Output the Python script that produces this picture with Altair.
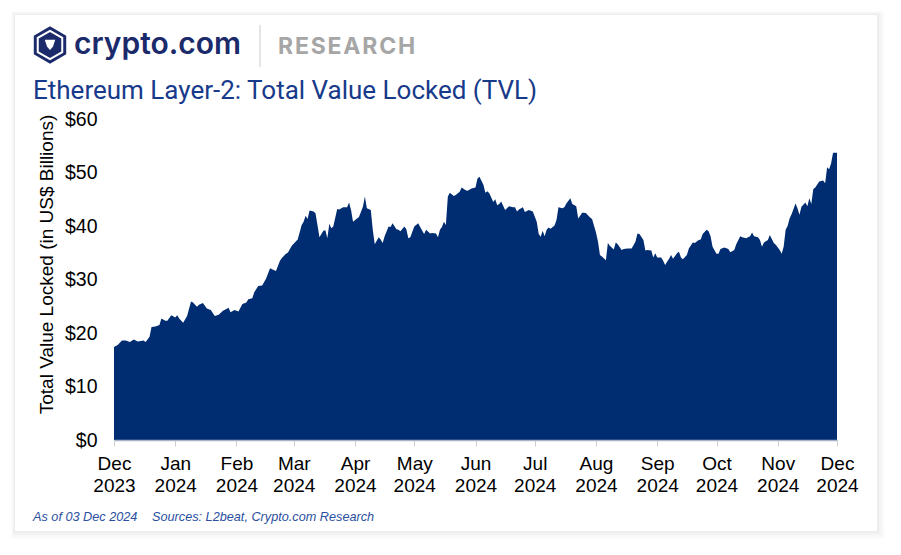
import altair as alt
import pandas as pd

# ---- data (days since 2023-12-01, TVL in US$ bn) ----
day_offset = [
    0, 2, 4, 6, 8, 10, 12, 15, 16, 18, 19, 21, 23, 24, 26, 27, 29, 31, 32, 33,
    35, 37, 39, 40, 42, 43, 45, 47, 49, 51, 53, 55, 58, 59, 61, 63, 65, 67, 68, 70,
    71, 73, 75, 77, 79, 80, 82, 84, 85, 87, 88, 90, 92, 93, 95, 96, 97, 98, 99, 101,
    102, 103, 104, 106, 107, 108, 109, 110, 111, 113, 114, 116, 118, 119, 120, 121, 123, 124, 125, 126,
    127, 128, 130, 131, 132, 134, 135, 136, 137, 139, 140, 141, 143, 144, 145, 147, 148, 149, 150, 152,
    154, 155, 157, 158, 160, 161, 163, 164, 165, 166, 167, 168, 169, 170, 172, 173, 175, 176, 178, 179,
    181, 183, 184, 185, 187, 188, 189, 190, 192, 193, 194, 195, 196, 198, 200, 202, 203, 204, 205, 207,
    208, 210, 212, 214, 215, 216, 217, 218, 219, 220, 221, 223, 224, 225, 227, 228, 229, 231, 232, 234,
    235, 237, 238, 239, 241, 242, 244, 245, 246, 247, 249, 250, 251, 253, 254, 255, 257, 258, 260, 262,
    263, 264, 265, 266, 268, 269, 270, 272, 273, 274, 275, 277, 278, 279, 280, 281, 282, 283, 285, 286,
    287, 288, 290, 291, 293, 294, 296, 297, 298, 300, 301, 302, 303, 305, 306, 307, 309, 311, 312, 314,
    315, 317, 318, 320, 322, 323, 324, 326, 327, 328, 329, 331, 332, 334, 335, 337, 338, 339, 340, 341,
    342, 343, 345, 346, 347, 348, 350, 351, 352, 353, 354, 355, 357, 359, 360, 361, 362, 363, 364, 366,
]
tvl_bn = [
    17.4, 17.8, 18.6, 18.6, 18.3, 18.8, 18.4, 18.6, 18.3, 19.3, 21.1, 21.2, 21.5, 22.7, 22.3, 22.3, 23.3, 22.9, 23.3, 22.7,
    21.9, 23.2, 25.9, 25.7, 24.9, 25.3, 25.6, 24.6, 24.3, 23.2, 23.4, 24.1, 24.7, 23.9, 24.3, 24.0, 25.4, 25.7, 26.3, 26.5,
    27.6, 28.8, 28.9, 30.2, 32.1, 31.9, 31.6, 33.5, 34.0, 34.8, 35.0, 36.3, 37.1, 37.5, 40.2, 40.8, 41.9, 41.3, 42.9, 42.7,
    42.4, 40.2, 37.9, 39.1, 39.2, 37.7, 40.4, 39.6, 39.9, 43.2, 43.1, 43.5, 43.5, 44.4, 43.0, 40.8, 41.4, 41.7, 42.6, 43.6,
    45.5, 43.3, 43.0, 39.3, 36.6, 37.9, 37.5, 36.8, 38.1, 39.9, 39.8, 40.5, 39.4, 39.3, 39.0, 39.9, 39.4, 37.7, 37.9, 39.9,
    40.5, 39.8, 38.5, 39.3, 38.6, 38.7, 38.6, 37.9, 39.3, 39.8, 40.8, 40.2, 45.5, 46.2, 45.6, 45.8, 46.4, 47.2, 46.7, 46.6,
    47.0, 47.2, 48.9, 49.2, 47.7, 46.2, 46.5, 46.1, 44.5, 45.0, 43.9, 44.1, 44.6, 43.0, 43.7, 43.5, 43.5, 42.7, 43.1, 43.5,
    42.6, 43.0, 42.7, 40.8, 38.5, 38.0, 39.1, 38.1, 39.3, 39.7, 39.5, 40.1, 41.1, 43.5, 43.3, 43.5, 44.2, 45.2, 44.1, 43.7,
    41.4, 42.5, 42.5, 42.4, 41.6, 41.3, 38.8, 37.1, 34.6, 34.3, 33.6, 36.8, 36.3, 35.6, 36.9, 36.6, 35.5, 35.7, 35.8, 35.8,
    36.4, 37.1, 38.6, 38.5, 37.4, 35.4, 35.5, 35.4, 34.1, 34.9, 34.1, 34.1, 33.5, 32.7, 33.3, 33.9, 34.6, 33.9, 34.9, 35.2,
    34.1, 33.8, 34.6, 35.8, 36.9, 36.8, 37.4, 37.5, 38.5, 39.3, 39.0, 38.1, 36.1, 34.8, 34.8, 35.7, 36.0, 35.7, 35.1, 35.5,
    36.6, 38.1, 37.9, 37.7, 38.1, 38.8, 38.1, 37.9, 37.4, 36.1, 36.9, 37.4, 38.3, 36.8, 36.5, 35.5, 34.8, 36.1, 39.3, 40.0,
    41.4, 42.2, 44.2, 43.3, 42.1, 43.6, 44.4, 43.7, 45.2, 44.1, 46.9, 47.2, 48.3, 48.5, 48.0, 51.0, 50.6, 51.7, 53.7, 53.7,
]
y_ticks = [0, 10, 20, 30, 40, 50, 60]
month_ticks = [(2023, 12)] + [(2024, m) for m in range(1, 13)]

title_text = "Ethereum Layer-2: Total Value Locked (TVL)"
y_title = "Total Value Locked (in US$ Billions)"
note_asof = "As of 03 Dec 2024"
note_src = "Sources: L2beat, Crypto.com Research"
brand_text = "crypto.com"
research_text = "\u200a".join("RESEARCH")

NAVY = "#002d72"
W, H = 723, 321

df = pd.DataFrame({
    "date": pd.Timestamp("2023-12-01") + pd.to_timedelta(day_offset, unit="D"),
    "tvl": tvl_bn,
})

x_vals = [alt.DateTime(year=y, month=m, date=1) for y, m in month_ticks]

area = alt.Chart(df).mark_area(color=NAVY, interpolate="linear").encode(
    x=alt.X("date:T",
            scale=alt.Scale(domain=[alt.DateTime(year=2023, month=12, date=1),
                                    alt.DateTime(year=2024, month=12, date=1)]),
            axis=alt.Axis(values=x_vals, title=None, grid=False, zindex=1,
                          labelExpr="[timeFormat(datum.value, '%b'), timeFormat(datum.value, '%Y')]",
                          labelFontSize=19, labelLineHeight=22, labelColor="#000000",
                          labelPadding=8, labelBaseline="top",
                          tickSize=6, tickColor="#d0d0d0", domainColor="#a8b3c8",
                          domainWidth=1.5, labelFlush=False)),
    y=alt.Y("tvl:Q",
            scale=alt.Scale(domain=[0, 60], nice=False),
            axis=alt.Axis(values=y_ticks, title=y_title, grid=False, domain=False, zindex=1,
                          ticks=False, labelExpr="'$' + datum.value",
                          labelFontSize=19.5, labelColor="#000000", labelPadding=17,
                          titleFontSize=19, titleFontWeight="normal", titleColor="#000000",
                          titleX=-58, titleY=145)),
)

def txt(s, x, y, size, color, weight="normal", style="normal", font="Roboto"):
    return alt.Chart(pd.DataFrame({"t": [s]})).mark_text(
        align="left", baseline="alphabetic", fontSize=size, color=color,
        fontWeight=weight, fontStyle=style, font=font,
    ).encode(x=alt.value(x), y=alt.value(y), text="t:N")

title = txt(title_text, -81, -20, 26, "#173a8a")
brand = txt(brand_text, -40, -65, 30, "#1b2a6b", weight=600, font="Inter")
research = txt(research_text, 164, -65, 23, "#a6a6a6", weight="bold", font="Inter")
asof = txt(note_asof, -81, 402, 12.7, "#2a4fa0", style="italic", font="Liberation Sans")
src = txt(note_src, 38, 402, 12.7, "#2a4fa0", style="italic", font="Liberation Sans")

one = pd.DataFrame({"a": [0]})
sep = alt.Chart(one).mark_rule(color="#d4d4d4", strokeWidth=1.2).encode(
    x=alt.value(146), y=alt.value(-94), y2=alt.value(-52))

# card with soft shadow (mostly to the right and below)
shadows = []
for g, op in [(8, 0.012), (6, 0.015), (4, 0.02), (2, 0.025)]:
    shadows.append(alt.Chart(one).mark_rect(color="#000000", opacity=op).encode(
        x=alt.value(-99 - g // 2), x2=alt.value(763 + g),
        y=alt.value(-104 - g // 2), y2=alt.value(412 + g)))
card = alt.Chart(one).mark_rect(color="#ffffff", opacity=1).encode(
    x=alt.value(-99), x2=alt.value(763), y=alt.value(-104), y2=alt.value(412))

HEX = "M0,-1L0.866,-0.5L0.866,0.5L0,1L-0.866,0.5L-0.866,-0.5Z"
logo_outer = alt.Chart(one).mark_point(shape=HEX, filled=True, color="#1b2a6b",
                                       size=1400, opacity=1).encode(
    x=alt.value(-64), y=alt.value(-74))
logo_inner = alt.Chart(one).mark_point(shape=HEX, filled=False, color="#ffffff",
                                       size=800, strokeWidth=2, opacity=1).encode(
    x=alt.value(-64), y=alt.value(-74))
logo_core = alt.Chart(one).mark_point(shape="M-0.6,-0.5L0.6,-0.5L0.35,0.3L0,0.7L-0.35,0.3Z",
                                      filled=True, color="#ffffff", size=300, opacity=1).encode(
    x=alt.value(-64), y=alt.value(-75))

chart = alt.layer(*shadows, card, area, logo_outer, logo_inner, logo_core, brand, sep,
                  research, title, asof, src).properties(
    width=W, height=H,
    padding={"left": 106, "top": 111, "right": 56, "bottom": 100},
    autosize=alt.AutoSizeParams(type="none"),
    background="#ffffff",
).configure_view(stroke=None).configure_axis(
    labelFont="Liberation Sans", titleFont="Liberation Sans"
)

chart.save("out.html", embed_options={"renderer": "svg", "actions": False})
